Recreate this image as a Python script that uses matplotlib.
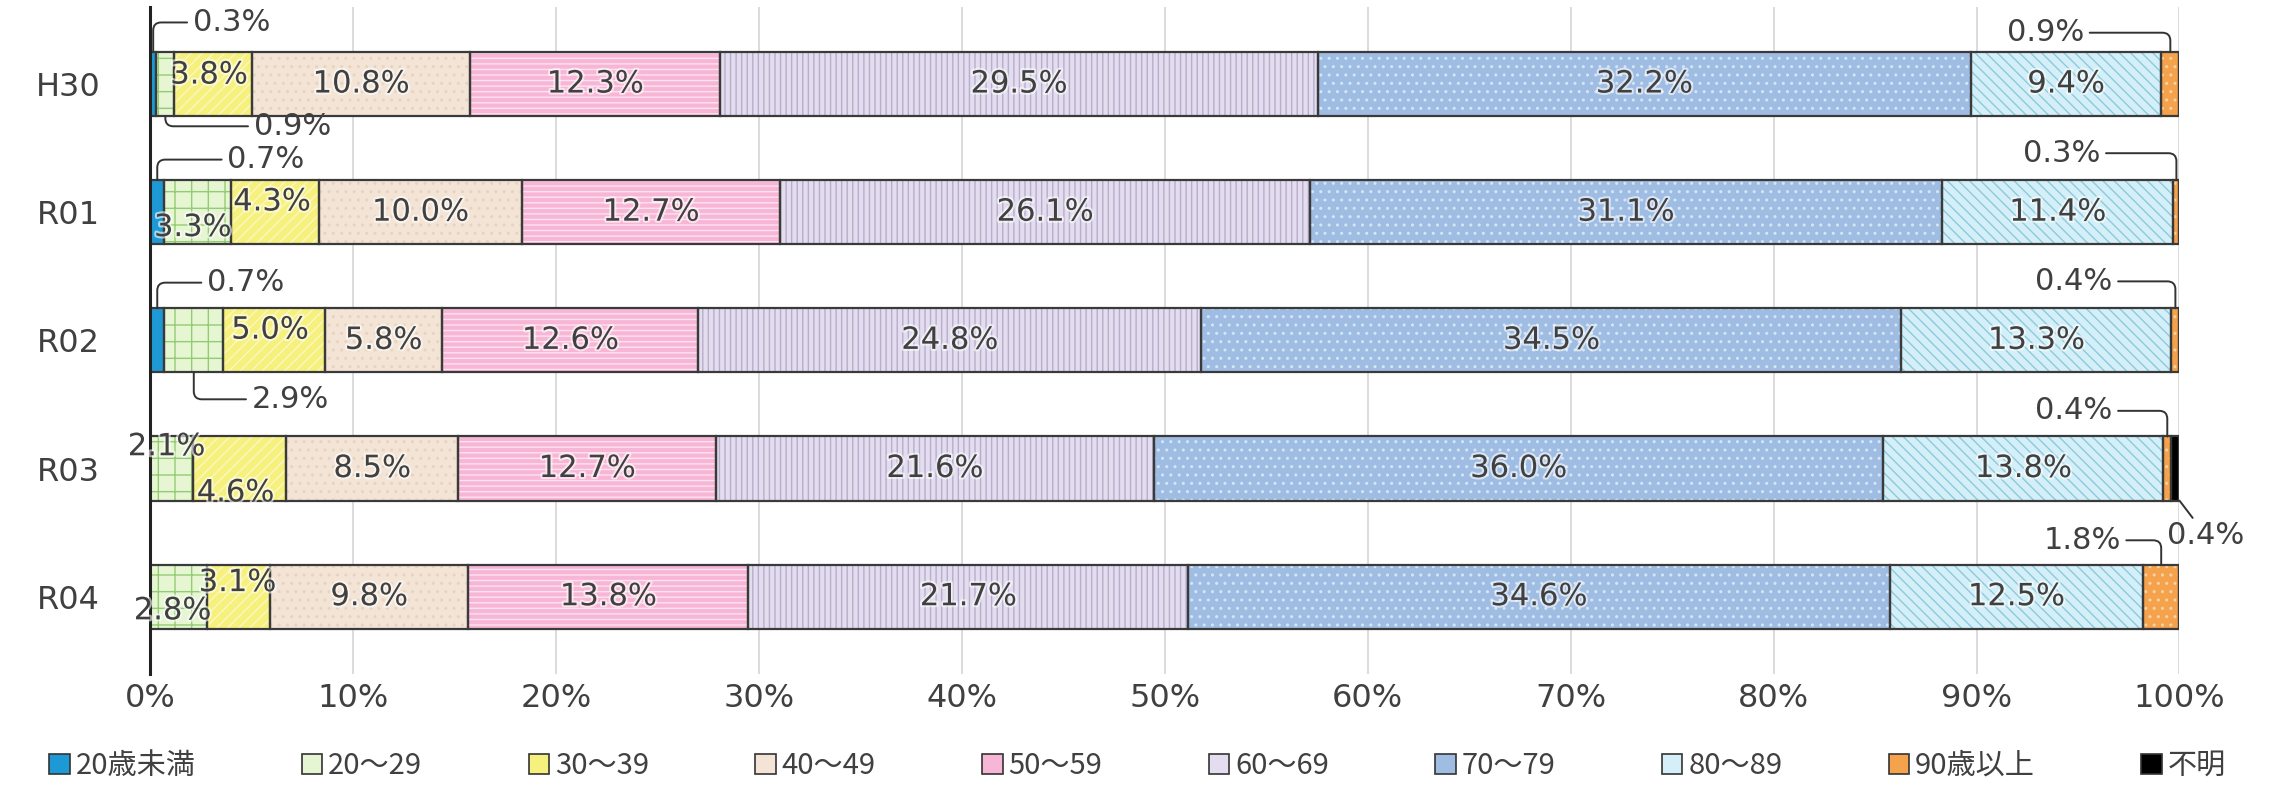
import matplotlib
matplotlib.use("Agg")
import matplotlib.pyplot as plt
from matplotlib.patches import Patch
import matplotlib.patheffects as pe
import numpy as np

# ---------------- data ----------------
categories = ['H30', 'R01', 'R02', 'R03', 'R04']
series_names = ['20歳未満', '20～29', '30～39', '40～49', '50～59',
                '60～69', '70～79', '80～89', '90歳以上', '不明']
u20     = [0.3, 0.7, 0.7, 0.0, 0.0]
a20_29  = [0.9, 3.3, 2.9, 2.1, 2.8]
a30_39  = [3.8, 4.3, 5.0, 4.6, 3.1]
a40_49  = [10.8, 10.0, 5.8, 8.5, 9.8]
a50_59  = [12.3, 12.7, 12.6, 12.7, 13.8]
a60_69  = [29.5, 26.1, 24.8, 21.6, 21.7]
a70_79  = [32.2, 31.1, 34.5, 36.0, 34.6]
a80_89  = [9.4, 11.4, 13.3, 13.8, 12.5]
o90     = [0.9, 0.3, 0.4, 0.4, 1.8]
unknown = [0.0, 0.0, 0.0, 0.4, 0.0]
xtick_labels = ['0%', '10%', '20%', '30%', '40%', '50%', '60%', '70%', '80%', '90%', '100%']

series = [u20, a20_29, a30_39, a40_49, a50_59, a60_69, a70_79, a80_89, o90, unknown]

# ---------------- styles ----------------
face = ['#1d9ad6', '#e6f5d2', '#f6f17c', '#f3e4d5', '#f8b6d7',
        '#e3ddef', '#9fbde3', '#d4eff7', '#f5a24c', '#000000']
hatches = [None, '+', '///', '..', '---', '|||', '..', '\\\\\\', '..', None]
hatch_col = [None, '#93cc74', '#fbf7c4', '#e6d4c2', '#fde3ef',
             '#b7aecb', '#d6e5f6', '#8ccade', '#fcd2a4', None]
edge = '#3a3a3a'
txt_col = '#404040'

plt.rcParams['hatch.linewidth'] = 1.0

fig = plt.figure(figsize=(22.75, 7.86), dpi=100)
ax = fig.add_axes([0.066, 0.143, 0.892, 0.848])

vals = np.array(series, dtype=float)          # (n_series, n_cat)
totals = vals.sum(axis=0)
norm = vals / totals * 100.0
ypos = np.arange(len(categories))
bar_h = 0.5

lefts = np.zeros(len(categories))
seg_left = np.zeros_like(norm)
for i in range(len(series)):
    w = norm[i]
    seg_left[i] = lefts
    if hatches[i]:
        ax.barh(ypos, w, left=lefts, height=bar_h, color=face[i],
                edgecolor=hatch_col[i], hatch=hatches[i], linewidth=0, zorder=2)
    else:
        ax.barh(ypos, w, left=lefts, height=bar_h, color=face[i],
                linewidth=0, zorder=2)
    ax.barh(ypos, w, left=lefts, height=bar_h, fill=False,
            edgecolor=edge, linewidth=1.6, zorder=3)
    lefts = lefts + w

halo = [pe.withStroke(linewidth=3, foreground='white', alpha=0.6)]
label_fs = 22

# special placements for small segments: (row, series) -> (text_x, text_dy, leader)
special = {
    (0, 0): (4.0, -0.48, 'top'),
    (0, 1): (7.0, 0.33, 'bottom'),
    (0, 2): (2.9, -0.07, None),
    (0, 8): (93.4, -0.40, 'top'),
    (1, 0): (5.7, -0.41, 'top'),
    (1, 1): (2.1, 0.12, None),
    (1, 2): (6.0, -0.08, None),
    (1, 8): (94.2, -0.46, 'top'),
    (2, 0): (4.7, -0.45, 'top'),
    (2, 1): (6.9, 0.46, 'bottom'),
    (2, 2): (5.9, -0.08, None),
    (2, 8): (94.8, -0.46, 'top'),
    (3, 1): (0.8, -0.17, None),
    (3, 2): (4.2, 0.19, None),
    (3, 8): (94.8, -0.45, 'top'),
    (3, 9): (101.3, 0.52, 'diag'),
    (4, 1): (1.1, 0.11, None),
    (4, 2): (4.3, -0.11, None),
    (4, 8): (95.2, -0.44, 'top'),
}

for i in range(len(series)):
    for j in range(len(categories)):
        v = vals[i, j]
        if v <= 0:
            continue
        label = f'{v:.1f}%'
        cx = seg_left[i, j] + norm[i, j] / 2
        if (j, i) in special:
            tx, dy, leader = special[(j, i)]
            ty = ypos[j] + dy
            if leader is None:
                ax.text(tx, ty, label, ha='center', va='center', fontsize=label_fs,
                        color=txt_col, zorder=5, path_effects=halo)
            elif leader == 'diag':
                ax.annotate(label, xy=(seg_left[i, j] + norm[i, j], ypos[j] + bar_h / 2),
                            xytext=(tx, ty), ha='center', va='center',
                            fontsize=label_fs, color=txt_col, zorder=5,
                            annotation_clip=False,
                            arrowprops=dict(arrowstyle='-', color='#333333', lw=1.4,
                                            shrinkA=0, shrinkB=0))
            else:
                ey = ypos[j] - bar_h / 2 if leader == 'top' else ypos[j] + bar_h / 2
                ax.annotate(label, xy=(cx, ey), xytext=(tx, ty), ha='center', va='center',
                            fontsize=label_fs, color=txt_col, zorder=5,
                            annotation_clip=False,
                            arrowprops=dict(arrowstyle='-', color='#333333', lw=1.4,
                                            shrinkA=2, shrinkB=0,
                                            connectionstyle='angle,angleA=0,angleB=90,rad=8'))
        else:
            ax.text(cx, ypos[j], label, ha='center', va='center', fontsize=label_fs,
                    color=txt_col, zorder=5, path_effects=halo)

ax.set_xlim(0, 100)
ax.set_ylim(len(categories) - 0.4, -0.6)
ax.set_yticks(ypos)
ax.set_yticklabels(categories, fontsize=23, color=txt_col)
ax.set_xticks(np.arange(0, 101, 10))
ax.set_xticklabels(xtick_labels, fontsize=23, color=txt_col)
ax.tick_params(axis='both', length=0)
ax.tick_params(axis='y', pad=36)
ax.tick_params(axis='x', pad=7)
ax.set_axisbelow(True)
ax.xaxis.grid(True, color='#d9d9d9', linewidth=1.3, zorder=0)
for s in ['top', 'right', 'bottom']:
    ax.spines[s].set_visible(False)
ax.spines['left'].set_color('#222222')
ax.spines['left'].set_linewidth(2.2)
ax.spines['left'].set_zorder(4)

handles = [Patch(facecolor=face[i], edgecolor='#333333', linewidth=1.2) for i in range(len(series))]
leg = fig.legend(handles, series_names, loc='lower center', bbox_to_anchor=(0.5, -0.027),
                 ncol=len(series), frameon=False, handlelength=0.7, handleheight=0.7,
                 handletextpad=0.2, columnspacing=3.65,
                 prop={'family': ['Noto Sans CJK JP', 'DejaVu Sans'], 'size': 21})
for t in leg.get_texts():
    t.set_color(txt_col)

fig.savefig('out.png', dpi=100, facecolor='white')
